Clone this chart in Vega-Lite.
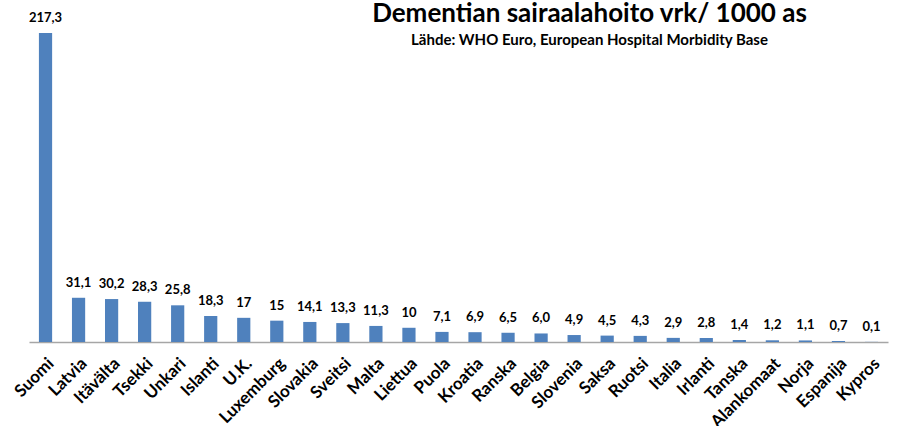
{
  "$schema": "https://vega.github.io/schema/vega-lite/v6.json",
  "width": 859,
  "height": 309,
  "autosize": "none",
  "padding": {"left": 29, "top": 33, "right": 9, "bottom": 84},
  "background": "white",
  "title": {
    "text": "Dementian sairaalahoito vrk/ 1000 as",
    "subtitle": "Lähde: WHO Euro, European Hospital Morbidity Base",
    "anchor": "middle",
    "dx": 131,
    "offset": -36,
    "font": "Lato",
    "fontSize": 26,
    "fontWeight": "bold",
    "color": "black",
    "subtitleFont": "Lato",
    "subtitleFontSize": 15,
    "subtitleFontWeight": "bold",
    "subtitleColor": "black",
    "subtitlePadding": 6
  },
  "data": {
    "values": [
      {"maa": "Suomi", "arvo": 217.3, "teksti": "217,3"},
      {"maa": "Latvia", "arvo": 31.1, "teksti": "31,1"},
      {"maa": "Itävälta", "arvo": 30.2, "teksti": "30,2"},
      {"maa": "Tsekki", "arvo": 28.3, "teksti": "28,3"},
      {"maa": "Unkari", "arvo": 25.8, "teksti": "25,8"},
      {"maa": "Islanti", "arvo": 18.3, "teksti": "18,3"},
      {"maa": "U.K.", "arvo": 17, "teksti": "17"},
      {"maa": "Luxemburg", "arvo": 15, "teksti": "15"},
      {"maa": "Slovakia", "arvo": 14.1, "teksti": "14,1"},
      {"maa": "Sveitsi", "arvo": 13.3, "teksti": "13,3"},
      {"maa": "Malta", "arvo": 11.3, "teksti": "11,3"},
      {"maa": "Liettua", "arvo": 10, "teksti": "10"},
      {"maa": "Puola", "arvo": 7.1, "teksti": "7,1"},
      {"maa": "Kroatia", "arvo": 6.9, "teksti": "6,9"},
      {"maa": "Ranska", "arvo": 6.5, "teksti": "6,5"},
      {"maa": "Belgia", "arvo": 6.0, "teksti": "6,0"},
      {"maa": "Slovenia", "arvo": 4.9, "teksti": "4,9"},
      {"maa": "Saksa", "arvo": 4.5, "teksti": "4,5"},
      {"maa": "Ruotsi", "arvo": 4.3, "teksti": "4,3"},
      {"maa": "Italia", "arvo": 2.9, "teksti": "2,9"},
      {"maa": "Irlanti", "arvo": 2.8, "teksti": "2,8"},
      {"maa": "Tanska", "arvo": 1.4, "teksti": "1,4"},
      {"maa": "Alankomaat", "arvo": 1.2, "teksti": "1,2"},
      {"maa": "Norja", "arvo": 1.1, "teksti": "1,1"},
      {"maa": "Espanija", "arvo": 0.7, "teksti": "0,7"},
      {"maa": "Kypros", "arvo": 0.1, "teksti": "0,1"}
    ]
  },
  "encoding": {
    "x": {
      "field": "maa",
      "type": "nominal",
      "sort": null,
      "scale": {"paddingInner": 0.6, "paddingOuter": 0.3},
      "axis": {
        "title": null,
        "labelAngle": -45,
        "labelAlign": "right",
        "labelBaseline": "top",
        "labelPadding": 13,
        "ticks": false,
        "labelFont": "Lato",
        "labelFontSize": 17,
        "labelFontWeight": "bold",
        "labelColor": "black",
        "domainColor": "#A6A6A6",
        "domainWidth": 1.5,
        "grid": false
      }
    },
    "y": {
      "field": "arvo",
      "type": "quantitative",
      "scale": {"domain": [0, 217.3]},
      "axis": null
    }
  },
  "layer": [
    {"mark": {"type": "bar", "color": "#4F81BD"}},
    {
      "mark": {"type": "text", "baseline": "alphabetic", "dy": -11, "font": "Lato", "fontSize": 13, "fontWeight": "bold", "color": "black"},
      "encoding": {"text": {"field": "teksti"}}
    }
  ],
  "config": {"view": {"stroke": null}}
}
